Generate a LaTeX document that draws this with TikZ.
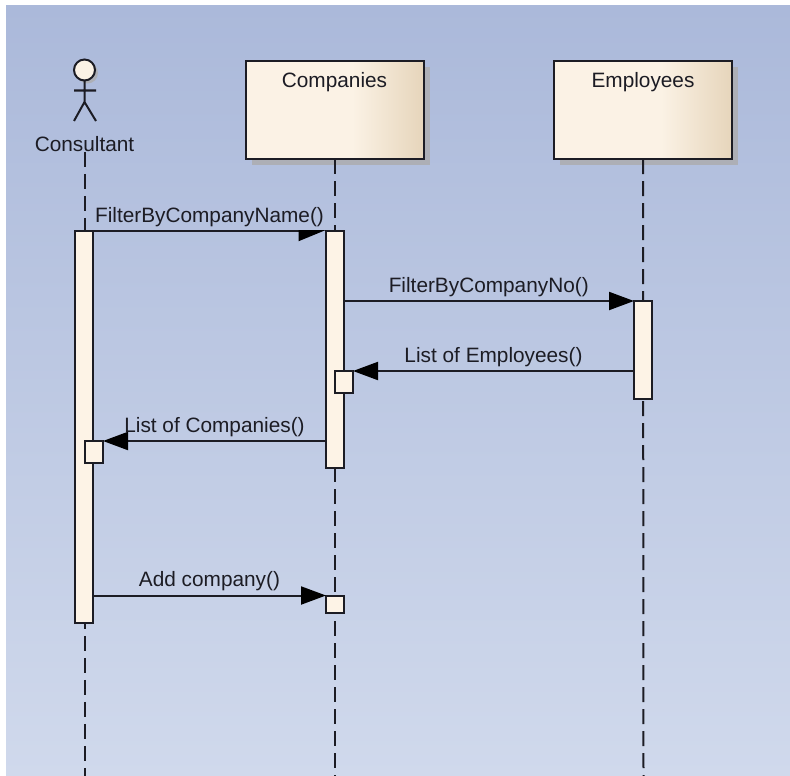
\documentclass[tikz,border=0pt]{standalone}
\usepackage{fontspec}
\setmainfont{Liberation Sans}
\usetikzlibrary{arrows.meta,positioning,shadows}
\definecolor{bgtop}{HTML}{ABB9DA}
\definecolor{bgbottom}{HTML}{D0D9EC}
\definecolor{boxlight}{HTML}{FBF2E5}
\definecolor{boxdark}{HTML}{E6D5BB}
\definecolor{barfill}{HTML}{FDF3E6}
\definecolor{inkcolor}{HTML}{1C1C24}
\definecolor{shadecolor}{HTML}{ADAFB6}
\pgfdeclarehorizontalshading{boxshade}{100bp}{color(0bp)=(boxlight); color(55bp)=(boxlight); color(75bp)=(boxdark); color(100bp)=(boxdark)}
\tikzset{
	objbox/.style={draw=inkcolor,line width=2pt,shading=boxshade,minimum width=178pt,minimum height=98pt,inner sep=0pt,outer sep=0pt,drop shadow={shadow xshift=6pt,shadow yshift=-6pt,fill=shadecolor,opacity=1}},
	actorhead/.style={circle,draw=inkcolor,line width=2pt,fill=boxlight,minimum size=21pt,inner sep=0pt,outer sep=0pt,drop shadow={shadow xshift=3pt,shadow yshift=-3pt,fill=shadecolor,opacity=1}},
	actbar/.style={draw=inkcolor,line width=2pt,fill=barfill,inner sep=0pt,outer sep=0pt},
	lifeline/.style={draw=inkcolor,line width=2pt,dash pattern=on 15pt off 7pt},
	msg/.style={draw=inkcolor,line width=2pt,-{Triangle[length=25pt,width=18pt,color=black,fill=black]}},
	halfmsg/.style={draw=inkcolor,line width=2pt,-{Triangle[length=25pt,width=20pt,right,color=black,fill=black]}},
	msgtext/.style={midway,above,inner sep=0pt,yshift=3.5pt,text=inkcolor,font=\fontsize{20.8}{23}\selectfont},
	headtext/.style={inner sep=0pt,text=inkcolor,font=\fontsize{20.8}{23}\selectfont}
}
\begin{document}
\begin{tikzpicture}[x=1pt,y=-1pt]
	\useasboundingbox (0,0) rectangle (790,776);
	\shade[top color=bgtop,bottom color=bgbottom] (6,6) rectangle (790,776);
	\node[actorhead] (actor) at (84.5,70) {};
	\coordinate (neck) at (84.5,102);
	\coordinate (armleft) at (74,90.5);
	\coordinate (armright) at (96,90.5);
	\coordinate (footleft) at (74,121);
	\coordinate (footright) at (96,121);
	\draw[draw=inkcolor,line width=2pt] (actor.south)--(neck) (armleft)--(armright) (footleft)--(neck)--(footright);
	\node[headtext] (consultant) at (84.5,144) {Consultant};
	\node[objbox] (companies) at (334.5,110) {};
	\node[objbox] (employees) at (643,110) {};
	\node[headtext,below=11pt of companies.north] (companieslabel) {Companies};
	\node[headtext,below=11pt of employees.north] (employeeslabel) {Employees};
	\coordinate (consultantend) at (84.5,776);
	\coordinate (companiesend) at (334.5,776);
	\coordinate (employeesend) at (643.5,776);
	\draw[lifeline] (consultant.south)--(consultantend);
	\draw[lifeline] (companies.south)--(companiesend);
	\draw[lifeline] (employees.south)--(employeesend);
	\node[actbar,minimum width=18pt,minimum height=392pt] (consultantbar) at (84,427) {};
	\node[actbar,minimum width=17.5pt,minimum height=237pt] (companiesbar) at (334.75,349.5) {};
	\node[actbar,minimum width=18pt,minimum height=98pt] (employeesbar) at (643,350) {};
	\node[actbar,minimum width=18pt,minimum height=22pt] (employeesreply) at (344,382) {};
	\node[actbar,minimum width=18pt,minimum height=22pt] (companiesreply) at (94,452) {};
	\node[actbar,minimum width=17.5pt,minimum height=17pt] (addbox) at (334.75,604) {};
	\draw[halfmsg] (consultantbar.north east)--(companiesbar.north west) node[msgtext]{FilterByCompanyName()};
	\draw[msg] (companiesbar.east |- employeesbar.north)--(employeesbar.north west) node[msgtext]{FilterByCompanyNo()};
	\draw[msg] (employeesbar.west |- employeesreply.north)--(employeesreply.north east) node[msgtext]{List of Employees()};
	\draw[msg] (companiesbar.west |- companiesreply.north)--(companiesreply.north east) node[msgtext]{List of Companies()};
	\draw[msg] (consultantbar.east |- addbox.north)--(addbox.north west) node[msgtext]{Add company()};
\end{tikzpicture}
\end{document}
